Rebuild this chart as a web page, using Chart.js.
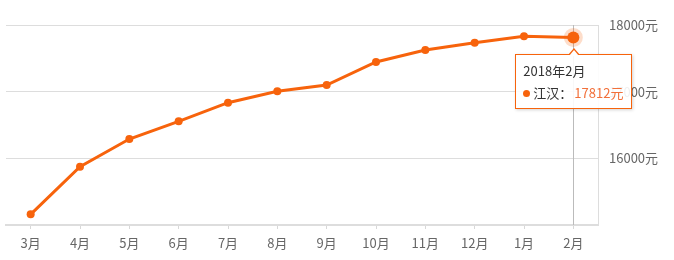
<!DOCTYPE html>
<html>
<head>
<meta charset="utf-8">
<script src="https://cdn.jsdelivr.net/npm/chart.js@4"></script>
<style>
html,body{margin:0;padding:0;background:#fff;}
#wrap{position:relative;width:674px;height:260px;}
#tt{position:absolute;background:rgba(255,255,255,0.9);border:1px solid #f7630c;box-shadow:1px 1px 3px rgba(0,0,0,0.18);padding:5px 8px 4px 7px;font-family:"Noto Sans CJK SC","Microsoft YaHei",sans-serif;font-size:13px;color:#333;line-height:22px;white-space:nowrap;display:none;box-sizing:border-box;}
#tt:before{content:"";position:absolute;left:52px;top:-7px;border-left:6px solid transparent;border-right:6px solid transparent;border-bottom:7px solid #f7630c;}
#tt:after{content:"";position:absolute;left:53px;top:-5px;border-left:5px solid transparent;border-right:5px solid transparent;border-bottom:6px solid #fff;}
#tt .dot{display:inline-block;width:7px;height:7px;border-radius:50%;background:#f7630c;margin-right:3px;vertical-align:1px;}
#tt .val{color:#f2703a;margin-left:2px;}
</style>
</head>
<body>
<div id="wrap"><canvas id="c" width="674" height="260"></canvas><div id="tt"></div></div>
<script>
const months = ['3月','4月','5月','6月','7月','8月','9月','10月','11月','12月','1月','2月'];
const prices = [15160, 15875, 16290, 16555, 16835, 17005, 17100, 17445, 17625, 17735, 17830, 17812];
const seriesName = '江汉';
const tooltipTitle = '2018年2月';
const activeIndex = 11;
const unit = '元';

const orange = '#f7630c';
const fontFam = '"Noto Sans CJK SC","Microsoft YaHei",sans-serif';

const crosshair = {
  id: 'crosshair',
  beforeDatasetsDraw(chart) {
    const act = chart.getActiveElements();
    if (!act.length) return;
    const x = act[0].element.x;
    const ctx = chart.ctx, a = chart.chartArea;
    ctx.save();
    ctx.strokeStyle = '#bbbbbb';
    ctx.lineWidth = 1;
    ctx.beginPath();
    ctx.moveTo(Math.round(x) + 0.5, a.top);
    ctx.lineTo(Math.round(x) + 0.5, a.bottom);
    ctx.stroke();
    ctx.restore();
  }
};

function externalTooltip(context) {
  const el = document.getElementById('tt');
  const t = context.tooltip;
  if (t.opacity === 0) { el.style.display = 'none'; return; }
  const i = t.dataPoints[0].dataIndex;
  el.innerHTML = '<div>' + tooltipTitle + '</div>' +
    '<div><span class="dot"></span>' + seriesName + '：<span class="val">' + prices[i] + unit + '</span></div>';
  el.style.display = 'block';
  el.style.left = (t.caretX - 58) + 'px';
  el.style.top = (t.caretY + 16) + 'px';
}

const chart = new Chart(document.getElementById('c'), {
  type: 'line',
  data: {
    labels: months,
    datasets: [{
      label: seriesName,
      data: prices,
      borderColor: orange,
      backgroundColor: orange,
      borderWidth: 3,
      pointRadius: 4,
      pointBackgroundColor: orange,
      pointBorderWidth: 0,
      pointHoverRadius: 6,
      pointHoverBackgroundColor: orange,
      pointHoverBorderColor: 'rgba(247,99,12,0.22)',
      pointHoverBorderWidth: 7,
      tension: 0,
      fill: false
    }]
  },
  options: {
    responsive: false,
    animation: false,
    events: [],
    layout: { padding: { left: 5, top: 25, right: 0, bottom: 0 } },
    plugins: {
      legend: { display: false },
      tooltip: { enabled: false, external: externalTooltip, mode: 'index', intersect: false }
    },
    scales: {
      x: {
        offset: true,
        afterFit(scale) { scale.height = 35; },
        grid: { drawOnChartArea: false, drawTicks: true, tickLength: 4, offset: false, color: '#d8d8d8' },
        border: { color: '#dddddd', width: 2 },
        ticks: { color: '#666', font: { family: fontFam, size: 13 }, padding: 6, maxRotation: 0, autoSkip: false }
      },
      y: {
        position: 'right',
        min: 15000,
        max: 18000,
        afterFit(scale) { scale.width = 76; },
        grid: { color: '#dddddd', drawTicks: false },
        border: { color: '#dddddd', width: 1 },
        ticks: {
          stepSize: 1000,
          padding: 11,
          color: '#666',
          font: { family: fontFam, size: 13 },
          callback: v => v === 15000 ? '' : v + unit
        }
      }
    }
  },
  plugins: [crosshair]
});

const act = [{ datasetIndex: 0, index: activeIndex }];
chart.setActiveElements(act);
const pt = chart.getDatasetMeta(0).data[activeIndex];
chart.tooltip.setActiveElements(act, { x: pt.x, y: pt.y });
chart.update('none');
</script>
</body>
</html>
